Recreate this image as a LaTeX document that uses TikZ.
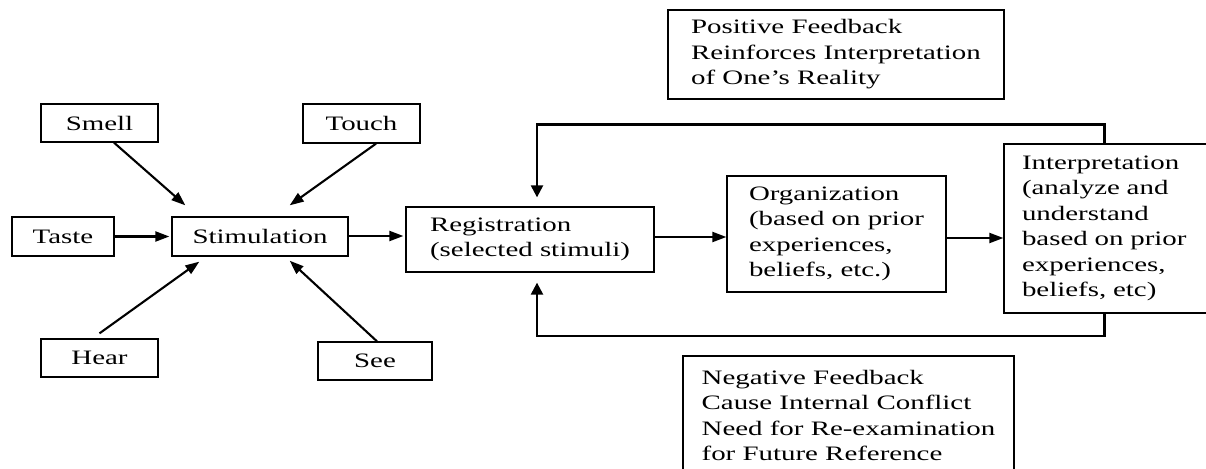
\documentclass[tikz,border=0pt]{standalone}
\usepackage{fontspec}
\setmainfont{Liberation Serif}[FakeStretch=1.41]
\usetikzlibrary{calc,arrows.meta}
\begin{document}
\begin{tikzpicture}[x=1pt,y=-1pt,
  box/.style={draw, line width=1.3pt, align=left, inner sep=0pt,
    font=\fontsize{20.5}{25.5}\selectfont},
  arr/.style={line width=2.1pt, -{Triangle[length=14pt,width=10pt]}},
  fb/.style={line width=2.3pt, -{Triangle[length=12pt,width=12pt]}}]
\useasboundingbox (0,0) rectangle (1206,468);
\fill[white] (0,0) rectangle (1206,468);
% sense boxes
\node[box, minimum width=117pt, minimum height=38pt] (smell) at (99.5,123) {Smell};
\node[box, minimum width=117pt, minimum height=39pt] (touch) at (361.5,123.5) {Touch};
\node[box, minimum width=102pt, minimum height=39pt] (taste) at (63,236.5) {Taste};
\node[box, minimum width=176pt, minimum height=39pt] (stim) at (260,236.5) {Stimulation};
\node[box, minimum width=117pt, minimum height=38pt] (hear) at (99.5,358) {Hear};
\node[box, minimum width=114pt, minimum height=38pt] (see) at (375,361) {See};
% process boxes
\node[box, minimum width=248pt, minimum height=65pt] (reg) at (530,239.5)
  {Registration\\(selected stimuli)};
\node[box, minimum width=219pt, minimum height=116pt] (org) at (836.5,234)
  {Organization\\(based on prior\\experiences,\\beliefs, etc.)};
\node[box, text width=200pt, inner xsep=18pt, minimum height=169pt] (interp) at (1122,228.5)
  {Interpretation\\(analyze and\\understand\\based on prior\\experiences,\\beliefs, etc)\par\vspace{13pt}};
% feedback boxes
\node[box, minimum width=336pt, minimum height=89pt] (pos) at (836,54.5)
  {Positive Feedback\\Reinforces Interpretation\\of One's Reality};
\node[box, minimum width=331pt, minimum height=119pt] (neg) at (848.5,415.5)
  {Negative Feedback\\Cause Internal Conflict\\Need for Re-examination\\for Future Reference};
% arrows into stimulation
\draw[arr] ($(smell.south)+(14.5,0)$) -- ($(stim.north west)+(14,-11)$);
\draw[arr] ($(touch.south)+(14.5,0)$) -- ($(stim.north east)+(-59,-11)$);
\draw[arr, shorten >=2pt] (taste.east) -- (stim.west);
\draw[arr] ($(hear.north)+(0,-5)$) -- ($(stim.south west)+(28,5)$);
\draw[arr] ($(see.north)+(2,0)$) -- ($(stim.south east)+(-59,4)$);
% main chain
\coordinate (s1) at ($(stim.east)+(0,-0.5)$);
\draw[arr, shorten >=2pt] (s1) -- (s1 -| reg.west);
\coordinate (r1) at ($(reg.east)+(0,-2.5)$);
\draw[arr] (r1) -- (r1 -| org.west);
\coordinate (o1) at ($(org.east)+(0,4)$);
\draw[arr] (o1) -- (o1 -| interp.west);
% feedback loops
\coordinate (ta) at ($(interp.north west)+(101,0)$);
\coordinate (tb) at ($(interp.north west)+(101,-19)$);
\draw[fb] (ta) -- (tb) -| ($(reg.north)+(7,-9)$);
\coordinate (ba) at ($(interp.south west)+(101,0)$);
\coordinate (bb) at ($(interp.south west)+(101,22)$);
\draw[fb] (ba) -- (bb) -| ($(reg.south)+(7,10)$);
\end{tikzpicture}
\end{document}
